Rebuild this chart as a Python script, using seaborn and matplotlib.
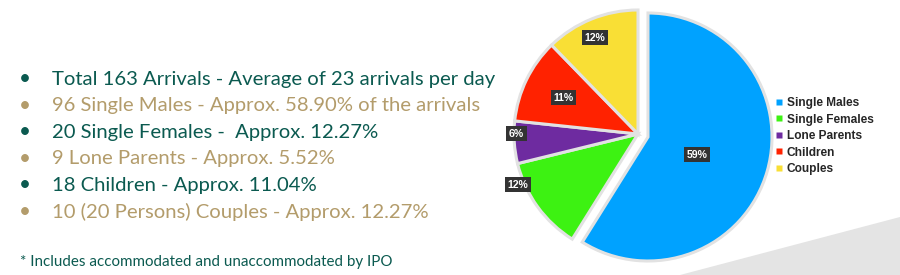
import numpy as np
import matplotlib
matplotlib.use("Agg")
import matplotlib.pyplot as plt
from matplotlib.patches import Polygon
from matplotlib.lines import Line2D
import seaborn as sns

# ---- data ----
categories = ["Single Males", "Single Females", "Lone Parents", "Children", "Couples"]
counts = [96, 20, 9, 18, 20]
pct_labels = ["59%", "12%", "6%", "11%", "12%"]
colors = ["#00A2FF", "#3DF212", "#6E2BA0", "#FF2200", "#F9DF35"]
bullet_lines = [
    "Total 163 Arrivals - Average of 23 arrivals per day",
    "96 Single Males - Approx. 58.90% of the arrivals",
    "20 Single Females -  Approx. 12.27%",
    "9 Lone Parents - Approx. 5.52%",
    "18 Children - Approx. 11.04%",
    "10 (20 Persons) Couples - Approx. 12.27%",
]
footnote = "* Includes accommodated and unaccommodated by IPO"

sns.set_theme(style="white")
plt.rcParams['font.family'] = ['Lato', 'DejaVu Sans']

W, H = 900, 275
fig = plt.figure(figsize=(9, 2.75), dpi=100)
fig.patch.set_facecolor("white")

# background grey wedge (bottom right)
bg = fig.add_axes([0, 0, 1, 1], zorder=0)
bg.set_xlim(0, W); bg.set_ylim(H, 0); bg.axis("off")
bg.add_patch(Polygon([[680, 275], [900, 217], [900, 275]], closed=True,
                     facecolor="#e4e4e4", edgecolor="none"))

# bullets
teal = "#0B5A50"
tan = "#B39C6B"
y0, dy = 79, 26.6
for i, line in enumerate(bullet_lines):
    c = teal if i % 2 == 0 else tan
    y = y0 + i * dy
    bg.text(25, y, "\u2022", color=c, fontsize=15, va="center", ha="center")
    bg.text(52, y, line, color=c, fontsize=14.6, va="center", ha="left")
bg.text(20, 262, footnote, color=teal, fontsize=10.9, va="center", ha="left")

# pie
cx, cy, R = 648, 137, 124
span = 1.3
side = 2 * span * R
ax = fig.add_axes([(cx - side / 2) / W, (H - cy - side / 2) / H, side / W, side / H], zorder=2)
wedges, _ = ax.pie(counts, colors=colors, startangle=90, counterclock=False,
                   radius=1.0,
                   wedgeprops=dict(edgecolor="#e2e2e2", linewidth=2.2))
ax.set_xlim(-span, span); ax.set_ylim(-span, span)
ax.set_aspect("equal"); ax.axis("off")

# shift the non-blue group slightly to the left (group explode)
shift = np.array([-10, 3]) / R
for w in wedges[1:]:
    w.set_center(tuple(shift))

label_r = [0.42, 1.05, 0.98, 0.67, 0.85]
label_dang = [-4, -13, -4, 0, 2]
for i, w in enumerate(wedges):
    mid = (w.theta1 + w.theta2) / 2 + label_dang[i]
    cxw, cyw = w.center
    x = cxw + label_r[i] * np.cos(np.radians(mid))
    y = cyw + label_r[i] * np.sin(np.radians(mid))
    ax.text(x, y, pct_labels[i], color="white", fontsize=7.6, fontweight="bold",
            family="Liberation Sans", ha="center", va="center",
            bbox=dict(boxstyle="square,pad=0.25", facecolor="#333333", edgecolor="none"))

# legend
handles = [Line2D([0], [0], marker="s", linestyle="none", markersize=5,
                  markerfacecolor=c, markeredgecolor="none") for c in colors]
leg = fig.legend(handles, categories, loc="upper left",
                 bbox_to_anchor=(776 / W, 1 - 97 / H), frameon=False,
                 prop=dict(family="Liberation Sans", weight="bold", size=8.6),
                 handlelength=0.55, handletextpad=0.35, labelspacing=0.38,
                 borderaxespad=0, borderpad=0)

fig.savefig("out.png", dpi=100, facecolor="white")
